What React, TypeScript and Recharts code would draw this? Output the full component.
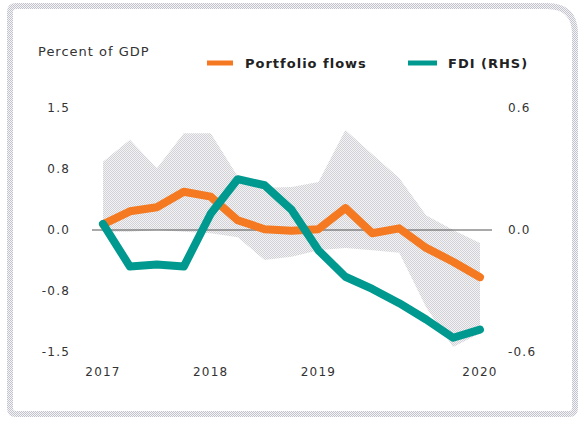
import React from 'react'
import {
  ComposedChart,
  Area,
  Line,
  XAxis,
  YAxis,
  ReferenceLine,
} from 'recharts'

// time index (evenly spaced observations)
const steps = [0, 1, 2, 3, 4, 5, 6, 7, 8, 9, 10, 11, 12, 13, 14]
const yearTicks = [0, 4, 8, 14]
const yearLabels = ['2017', '2018', '2019', '2020']

// percent of GDP, left axis
const portfolioFlows = [0.07, 0.23, 0.28, 0.47, 0.41, 0.12, 0.01, -0.01, 0.01, 0.27, -0.04, 0.02, -0.22, -0.39, -0.58]
const rangeHigh = [0.84, 1.11, 0.76, 1.19, 1.19, 0.66, 0.52, 0.53, 0.59, 1.23, 0.93, 0.64, 0.18, 0.0, -0.16]
const rangeLow = [-0.02, -0.02, 0.0, -0.02, -0.04, -0.09, -0.37, -0.33, -0.25, -0.22, -0.25, -0.28, -0.95, -1.44, -1.27]

// FDI, right axis
const fdi = [0.03, -0.18, -0.17, -0.18, 0.08, 0.25, 0.22, 0.1, -0.1, -0.23, -0.29, -0.36, -0.44, -0.53, -0.49]

const leftTicks = [-1.5, -0.75, 0, 0.75, 1.5]
const rightTicks = [-0.6, 0, 0.6]

const ORANGE = '#f47920'
const TEAL = '#00998f'
const FONT = '"DejaVu Sans", sans-serif'

const data = steps.map((s, i) => ({
  t: s,
  portfolio: portfolioFlows[i],
  fdi: fdi[i],
  range: [rangeLow[i], rangeHigh[i]],
}))

const tickStyle = { fontSize: 12, fill: '#333', fontFamily: FONT, letterSpacing: 1.2 }

export default function App() {
  return (
    <div style={{ position: 'fixed', left: 0, top: 0, width: 578, height: 421, background: '#fff' }}>
      <svg width={578} height={421} style={{ position: 'absolute', left: 0, top: 0 }}>
        <defs>
          <pattern id="frameDots" width={2} height={2} patternUnits="userSpaceOnUse">
            <rect width={2} height={2} fill="#f4f4f8" />
            <rect width={1} height={1} fill="#c4c4cc" />
            <rect x={1} y={1} width={1} height={1} fill="#c4c4cc" />
          </pattern>
        </defs>
        <path
          d="M16 6 H547 Q575 6 575 34 V408 Q575 414 569 414 H16 Q10 414 10 408 V12 Q10 6 16 6 Z"
          fill="none"
          stroke="url(#frameDots)"
          strokeWidth={6}
        />
        <text x={38} y={56} fontFamily={FONT} fontSize={13} fill="#333" letterSpacing={1}>
          Percent of GDP
        </text>
        <line x1={207} y1={63} x2={233} y2={63} stroke={ORANGE} strokeWidth={5} />
        <text x={245} y={68} fontFamily={FONT} fontSize={13} fontWeight="bold" fill="#222" letterSpacing={1}>
          Portfolio flows
        </text>
        <line x1={408} y1={63} x2={437} y2={63} stroke={TEAL} strokeWidth={5} />
        <text x={448} y={68} fontFamily={FONT} fontSize={13} fontWeight="bold" fill="#222" letterSpacing={1}>
          FDI (RHS)
        </text>
      </svg>
      <div style={{ position: 'absolute', left: 0, top: 0 }}>
        <ComposedChart
          width={578}
          height={421}
          data={data}
          margin={{ top: 108, right: 0, bottom: 39, left: 0 }}
        >
          <defs>
            <pattern id="bandDots" width={2} height={2} patternUnits="userSpaceOnUse">
              <rect width={2} height={2} fill="#f3f3f5" />
              <rect width={1} height={1} fill="#d2d2d6" />
              <rect x={1} y={1} width={1} height={1} fill="#d2d2d6" />
            </pattern>
          </defs>
          <XAxis
            dataKey="t"
            type="number"
            domain={[0, 14]}
            ticks={yearTicks}
            tickFormatter={(v: number) => yearLabels[yearTicks.indexOf(v)]}
            padding={{ left: 11, right: 12 }}
            axisLine={false}
            tickLine={false}
            tickSize={0}
            tickMargin={15}
            height={30}
            tick={tickStyle}
            interval={0}
          />
          <YAxis
            yAxisId="left"
            domain={[-1.5, 1.5]}
            ticks={leftTicks}
            tickFormatter={(v: number) => v.toFixed(1)}
            axisLine={false}
            tickLine={false}
            tickSize={0}
            tickMargin={22}
            width={92}
            tick={tickStyle}
            interval={0}
          />
          <YAxis
            yAxisId="right"
            orientation="right"
            domain={[-0.6, 0.6]}
            ticks={rightTicks}
            tickFormatter={(v: number) => v.toFixed(1)}
            axisLine={false}
            tickLine={false}
            tickSize={0}
            tickMargin={16}
            width={86}
            tick={tickStyle}
            interval={0}
          />
          <Area
            yAxisId="left"
            dataKey="range"
            type="linear"
            stroke="none"
            fill="url(#bandDots)"
            fillOpacity={1}
            isAnimationActive={false}
          />
          <ReferenceLine yAxisId="left" y={0} stroke="#555" strokeWidth={1} />
          <Line
            yAxisId="left"
            dataKey="portfolio"
            type="linear"
            stroke={ORANGE}
            strokeWidth={8}
            strokeLinejoin="round"
            strokeLinecap="round"
            dot={false}
            isAnimationActive={false}
          />
          <Line
            yAxisId="right"
            dataKey="fdi"
            type="linear"
            stroke={TEAL}
            strokeWidth={8}
            strokeLinejoin="round"
            strokeLinecap="round"
            dot={false}
            isAnimationActive={false}
          />
        </ComposedChart>
      </div>
    </div>
  )
}
